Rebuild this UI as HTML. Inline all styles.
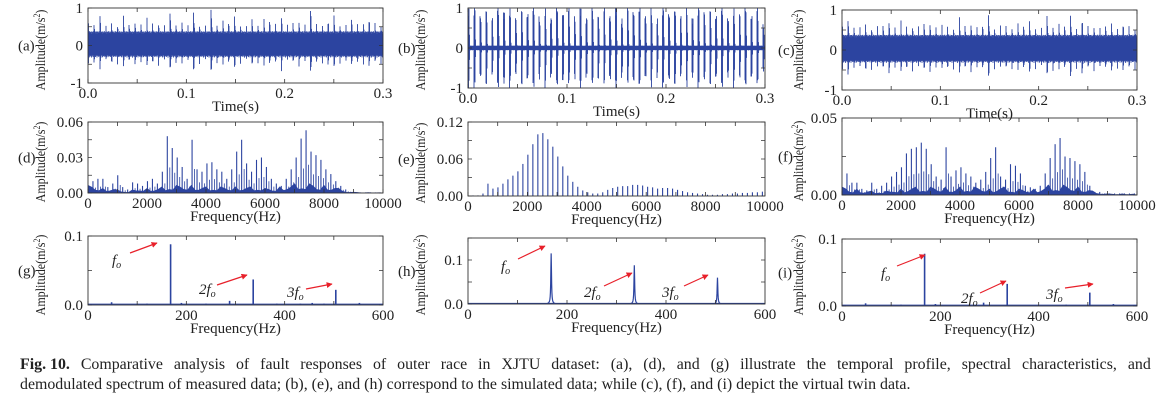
<!DOCTYPE html>
<html><head><meta charset="utf-8">
<style>
body{margin:0;background:#fff;width:1170px;height:401px;overflow:hidden;position:relative;font-family:"Liberation Serif",serif;}
svg{position:absolute;left:0;top:0}
#cap{position:absolute;left:20px;top:355px;width:1131px;font-size:15.9px;line-height:20px;color:#222}
#cap .l1{white-space:nowrap;display:flex;justify-content:space-between}
#cap .l1 span{white-space:pre}
</style></head><body>
<svg id="fig" width="1170" height="345" xmlns="http://www.w3.org/2000/svg">
<defs><marker id="ah" viewBox="0 0 10 10" refX="9" refY="5" markerWidth="5" markerHeight="5" orient="auto"><path d="M0,0L10,5L0,10z" fill="#e8202a"/></marker></defs>
</svg>
<div id="cap"><div class="l1" id="l1"></div><div>demodulated spectrum of measured data; (b), (e), and (h) correspond to the simulated data; while (c), (f), and (i) depict the virtual twin data.</div></div>
<script>
(function(){const words="Comparative analysis of fault responses of outer race in XJTU dataset: (a), (d), and (g) illustrate the temporal profile, spectral characteristics, and".split(' ');
const l1=document.getElementById('l1');const b=document.createElement('b');b.textContent='Fig. 10.';l1.appendChild(b);
words.forEach(w=>{const s=document.createElement('span');s.textContent=w;l1.appendChild(s);});})();
// ---- data ----
const faultFreq = 168;
const peaksA = [0.7,0.6,0.85,0.55,0.6,0.6,0.8,0.55,0.65,0.6,0.8,0.6,0.65,0.55,0.85,0.6,0.65,0.6,0.9,0.6,0.55,0.95,0.6,0.7,0.6,0.8,0.6,0.55,0.7,0.6,0.75,0.65,0.6,0.85,0.6,0.6,0.7,0.6,0.95,0.6,0.6,0.65,0.8,0.6,0.6,0.7,0.6,0.65,0.7,0.6];
const peaksB = [1,1,0.8,1,0.75,1,0.9,1,0.75,1,0.85,1,0.8,1,0.75,1,0.9,1,0.8,1,0.75,1,0.85,1,0.8,1,0.75,1,0.9,1,0.8,1,0.75,1,0.85,1,0.8,1,0.75,1,0.9,1,0.8,1,0.75,1,0.85,1,0.8,1];
const peaksC = [0.7,0.8,0.6,0.6,0.65,0.6,0.6,0.6,0.75,0.6,0.8,0.6,0.65,0.6,0.65,0.7,0.6,0.7,0.6,0.6,0.85,0.6,0.7,0.6,0.6,0.9,0.6,0.65,0.6,0.6,0.7,0.6,0.75,0.6,0.6,0.85,0.65,0.7,0.6,0.9,0.6,0.75,0.6,0.65,0.6,0.6,0.7,0.6,0.65,0.6];
const baseA = 0.38, baseB = 0.06, baseC = 0.38;
const specD = [0.01,0.012,0.012,0.005,0.008,0.015,0.005,0.003,0.009,0.008,0.006,0.01,0.012,0.008,0.018,0.048,0.038,0.03,0.022,0.012,0.045,0.02,0.018,0.025,0.026,0.02,0.018,0.012,0.02,0.035,0.045,0.025,0.018,0.028,0.03,0.022,0.012,0.008,0.006,0.012,0.02,0.03,0.046,0.053,0.035,0.032,0.028,0.02,0.016,0.01,0.006,0.003,0.001,0.0005,0.0005,0.0005,0.0005,0.0005,0.0005];
const specE = [0.001,0.001,0.004,0.02,0.012,0.014,0.02,0.027,0.033,0.04,0.052,0.067,0.084,0.1,0.102,0.092,0.08,0.064,0.048,0.033,0.023,0.015,0.009,0.006,0.004,0.004,0.006,0.01,0.013,0.015,0.016,0.016,0.018,0.018,0.017,0.015,0.014,0.012,0.013,0.013,0.012,0.01,0.008,0.006,0.005,0.004,0.003,0.002,0.002,0.002,0.003,0.003,0.004,0.004,0.005,0.005,0.006,0.006,0.007];
const specF = [0.014,0.008,0.008,0.004,0.003,0.008,0.004,0.006,0.008,0.012,0.015,0.018,0.027,0.03,0.031,0.034,0.03,0.02,0.012,0.01,0.031,0.012,0.016,0.018,0.014,0.012,0.008,0.01,0.015,0.024,0.031,0.012,0.01,0.02,0.019,0.014,0.006,0.005,0.004,0.006,0.014,0.024,0.033,0.037,0.025,0.024,0.022,0.02,0.015,0.006,0.002,0.002,0.001,0.001,0.001,0.001,0.001,0.001,0.001];
const floorD = [0.005,0.004,0.003,0.003,0.002,0.001,0.002,0.003,0.003,0.003,0.004,0.005,0.005,0.005,0.005,0.004,0.004,0.004,0.004,0.004,0.004,0.004,0.004,0.004,0.003,0.003,0.004,0.005,0.006,0.006,0.006,0.005,0.005,0.004,0.003,0.001,0.0005,0.0003,0.0003,0.0003];
const floorF = [0.004,0.003,0.003,0.002,0.002,0.002,0.002,0.003,0.003,0.004,0.004,0.004,0.004,0.004,0.004,0.003,0.004,0.004,0.004,0.004,0.003,0.004,0.004,0.003,0.003,0.003,0.003,0.004,0.005,0.005,0.005,0.005,0.004,0.003,0.002,0.001,0.0006,0.0006,0.0006,0.0006];
const envFreqG = [48,120,168,190,240,288,336,384,432,456,480,504,552];
const envAmpG  = [0.004,0.002,0.088,0.003,0.002,0.006,0.037,0.002,0.002,0.003,0.002,0.022,0.003];
const envFreqH = [168,336,504];
const envAmpH  = [0.115,0.088,0.06];
const envFreqI = [48,120,168,190,288,336,456,504,552];
const envAmpI  = [0.004,0.002,0.078,0.003,0.005,0.033,0.002,0.02,0.003];

const NS="http://www.w3.org/2000/svg";
const svg=document.getElementById('fig');
const COL="#2c44a0";
function mk(tag,attrs,parent){const e=document.createElementNS(NS,tag);for(const k in attrs)e.setAttribute(k,attrs[k]);(parent||svg).appendChild(e);return e;}
function txt(x,y,s,attrs,parent){const e=mk('text',Object.assign({x:x,y:y,'font-family':'Liberation Serif, serif','font-size':15,fill:'#222'},attrs||{}),parent);e.textContent=s;return e;}

function panel(p){
  const g=mk('g',{});
  
  
  const sx=v=>p.x0+(v-p.xmin)/(p.xmax-p.xmin)*(p.x1-p.x0);
  const sy=v=>p.y1-(v-p.ymin)/(p.ymax-p.ymin)*(p.y1-p.y0);
  p.sx=sx;p.sy=sy;p.g=g;
  const clip=mk('clipPath',{id:'c'+p.id},g);mk('rect',{x:p.x0,y:p.y0,width:p.x1-p.x0,height:p.y1-p.y0},clip);
  p.plot=mk('g',{'clip-path':'url(#c'+p.id+')'},g);
  const tk=4;let d='';
  p.xticks.forEach(v=>{const x=sx(v);d+=`M${x},${p.y1}v${-tk}M${x},${p.y0}v${tk}`;});
  p.yticks.forEach(v=>{const y=sy(v);d+=`M${p.x0},${y}h${tk}M${p.x1},${y}h${-tk}`;});
  mk('path',{d:d,stroke:'#333','stroke-width':0.8,fill:'none'},g);
  p.xlabels.forEach(v=>{const t=txt(sx(v),p.y1+15,p.xfmt(v),{'text-anchor':'middle'},g);});
  p.ylabels.forEach(v=>{const t=txt(p.x0-5,sy(v)+5,p.yfmt(v),{'text-anchor':'end'},g);});
  const yl=txt(0,0,'',{'text-anchor':'middle','font-size':14,transform:`translate(${p.ylx},${p.ylc}) rotate(-90) scale(0.86,1)`},g);
  yl.innerHTML='Amplitude(m/s<tspan dy="-5" font-size="9">2</tspan><tspan dy="5">)</tspan>';
  
  const pl=txt(p.plx,(p.y0+p.y1)/2+5,'('+p.id+')',{},g);
  
  if(p.xtitle){const xt=txt((p.x0+p.x1)/2,p.y1+28,p.xtitle,{'text-anchor':'middle'},g);}
  return p;
}
function frame(p){mk('rect',{x:p.x0,y:p.y0,width:p.x1-p.x0,height:p.y1-p.y0,fill:'none',stroke:'#333','stroke-width':0.9},p.g);}

function timeSig(p,peaks,base,hold,tau,negr){
  let d='';const T=1/faultFreq;
  for(let x=p.x0;x<=p.x1;x+=0.5){
    const t=(x-p.x0)/(p.x1-p.x0)*0.3;
    const k=Math.floor(t/T);const dt=t-k*T;
    const pk=(peaks[k]||0.6);
    const imp=dt<hold?pk:pk*Math.exp(-(dt-hold)/tau);
    const env=Math.max(base,imp);
    const ph=Math.abs(Math.sin(x*2.3));
    const up=Math.min(env*(0.8+0.2*ph),1.05),dn=Math.min(env*negr*(0.8+0.2*(1-ph)),1.05);
    d+=`M${x},${p.sy(up)}V${p.sy(-dn)}`;
  }
  const e=mk('path',{d:d,stroke:COL,'stroke-width':0.9,fill:'none'},p.plot);
  
}
function spectrum(p,vals,floor){
  if(floor){let d=`M${p.sx(0)},${p.sy(0)}`;
    floor.forEach((v,i)=>{d+=`L${p.sx(i*250)},${p.sy(v*(i%2?0.6:1.3))}L${p.sx(i*250+125)},${p.sy(v*(i%3?0.5:1))}`;});
    d+=`L${p.sx(10000)},${p.sy(0)}Z`;
    const f=mk('path',{d:d,fill:COL,stroke:COL,'stroke-width':0.6},p.plot);
    }
  vals.forEach((v,i)=>{const fq=(i+1)*faultFreq;const x=p.sx(fq);
    const l=mk('line',{x1:x,x2:x,y1:p.sy(0),y2:p.sy(v),stroke:COL,'stroke-width':1.1},p.plot);
    
    if(floor){const l2=mk('line',{x1:x+2.5,x2:x+2.5,y1:p.sy(0),y2:p.sy(v*0.45),stroke:COL,'stroke-width':0.8},p.plot);
      }
  });
}
function envSpec(p,fr,am,lor){
  mk('path',{d:`M${p.x0},${p.sy(0.0012)}H${p.x1}`,stroke:COL,'stroke-width':1.2,fill:'none'},p.plot);
  fr.forEach((f,i)=>{const x=p.sx(f);
    if(lor){let dd='';for(let dx=-5;dx<=5;dx+=0.25){const y=am[i]/(1+(dx*dx)*6);dd+=(dd?'L':'M')+(x+dx)+','+p.sy(y);}
      const l=mk('path',{d:dd,stroke:COL,'stroke-width':1.2,fill:'none'},p.plot);
      }
    else{const l=mk('line',{x1:x,x2:x,y1:p.sy(0),y2:p.sy(am[i]),stroke:COL,'stroke-width':1.6},p.plot);
      }
  });
}
function arrow(tx,ty,label,x1,y1,x2,y2){
  const t=txt(tx,ty,'',{'font-style':'italic','font-size':15});
  t.innerHTML=label+'<tspan font-size="10" dy="3">o</tspan>';
  
  const a=mk('line',{x1:x1,y1:y1,x2:x2,y2:y2,stroke:'#e8202a','stroke-width':1.2,'marker-end':'url(#ah)'});
  
}
const r=(a,b,s)=>{const o=[];for(let v=a;v<=b+1e-9;v+=s)o.push(+v.toFixed(4));return o;};
const f1=v=>v.toFixed(1),f0=v=>String(v),f2=v=>v.toFixed(2);
const cols=[{x0:88,x1:383,ylx:45,plx:18},{x0:468,x1:765,ylx:425,plx:398},{x0:842,x1:1137,ylx:803,plx:778}];
const rowsY=[[[8,83],[8,88],[10,90]],[[122,193],[122,196],[118,195]],[[236,305],[238,304],[239,306]]];
const ylc=[[50,50,50],[162,163,161],[275,275,275]];
const ids=[['a','b','c'],['d','e','f'],['g','h','i']];
const specY=[{ymax:0.06,yt:r(0,0.06,0.015),yl:[0,0.03,0.06]},{ymax:0.12,yt:r(0,0.12,0.03),yl:[0,0.06,0.12]},{ymax:0.05,yt:r(0,0.05,0.025),yl:[0,0.05]}];
const envY=[{ymax:0.1,yt:[0,0.05,0.1]},{ymax:0.15,yt:[0,0.05,0.1,0.15]},{ymax:0.1,yt:[0,0.05,0.1]}];
const P={};
for(let c=0;c<3;c++){
  P[ids[0][c]]=panel({id:ids[0][c],x0:cols[c].x0,x1:cols[c].x1,y0:rowsY[0][c][0],y1:rowsY[0][c][1],xmin:0,xmax:0.3,ymin:-1,ymax:1,ylc:ylc[0][c],
    xticks:r(0,0.3,0.05),xlabels:[0,0.1,0.2,0.3],xfmt:f1,yticks:r(-1,1,0.5),ylabels:[-1,0,1],yfmt:f0,ylx:cols[c].ylx,plx:cols[c].plx,xtitle:'Time(s)'});
  P[ids[1][c]]=panel({id:ids[1][c],x0:cols[c].x0,x1:cols[c].x1,y0:rowsY[1][c][0],y1:rowsY[1][c][1],xmin:0,xmax:10000,ymin:0,ymax:specY[c].ymax,ylc:ylc[1][c],
    xticks:r(0,10000,1000),xlabels:r(0,10000,2000),xfmt:f0,yticks:specY[c].yt,ylabels:specY[c].yl,yfmt:f2,ylx:cols[c].ylx,plx:cols[c].plx,xtitle:'Frequency(Hz)'});
  P[ids[2][c]]=panel({id:ids[2][c],x0:cols[c].x0,x1:cols[c].x1,y0:rowsY[2][c][0],y1:rowsY[2][c][1],xmin:0,xmax:600,ymin:0,ymax:envY[c].ymax,ylc:ylc[2][c],
    xticks:r(0,600,100),xlabels:[0,200,400,600],xfmt:f0,yticks:envY[c].yt,ylabels:[0,0.1],yfmt:f1,ylx:cols[c].ylx,plx:cols[c].plx,xtitle:'Frequency(Hz)'});
}
timeSig(P.a,peaksA,baseA,0.0004,0.0012,0.85);
timeSig(P.b,peaksB,baseB,0.0012,0.0003,1.0);
timeSig(P.c,peaksC,baseC,0.0004,0.0012,0.85);
spectrum(P.d,specD,floorD);
spectrum(P.e,specE,null);
spectrum(P.f,specF,floorF);
envSpec(P.g,envFreqG,envAmpG,false);
envSpec(P.h,envFreqH,envAmpH,true);
envSpec(P.i,envFreqI,envAmpI,false);
Object.values(P).forEach(frame);
arrow(112,265,'f',130,253,157,243);
arrow(199,294,'2f',217,285,247,275);
arrow(287,297,'3f',306,289,332,284);
arrow(501,271,'f',518,259,545,246);
arrow(584,297,'2f',604,286,632,273);
arrow(662,297,'3f',684,286,708,275);
arrow(881,278,'f',897,266,925,255);
arrow(961,303,'2f',980,293,1006,281);
arrow(1046,299,'3f',1065,288,1093,284);
</script>
</body></html>
